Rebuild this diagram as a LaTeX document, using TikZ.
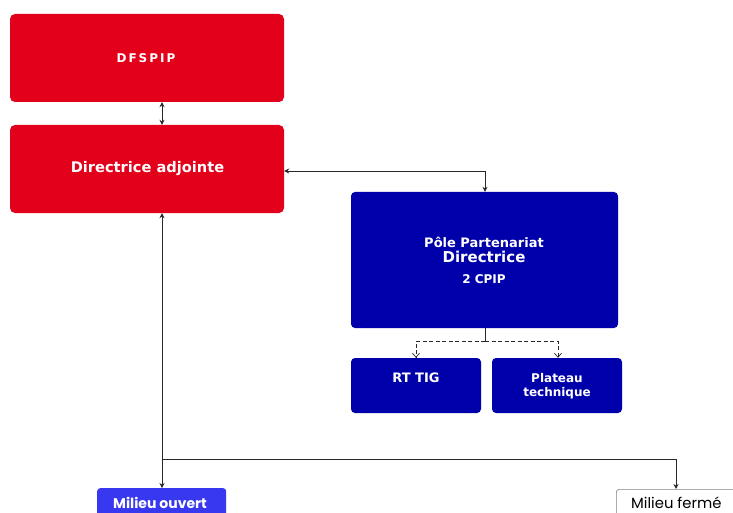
\documentclass[tikz,border=0pt]{standalone}
\usepackage{fontspec}
\setmainfont{DejaVu Sans}
\newfontfamily\popfont{Poppins}
\usetikzlibrary{arrows.meta}
\definecolor{redbox}{RGB}{226,0,26}
\definecolor{bluebox}{RGB}{0,0,170}
\definecolor{lightblue}{RGB}{56,56,240}
\definecolor{linegray}{RGB}{40,40,40}
\begin{document}
\begin{tikzpicture}[x=1pt,y=-1pt,
  redstyle/.style={fill=redbox, rounded corners=5pt, inner sep=0pt},
  bluestyle/.style={fill=bluebox, rounded corners=4pt, inner sep=0pt},
  wtext/.style={text=white, font=\bfseries, align=center, inner sep=0pt},
  conn/.style={draw=linegray, line width=0.8pt, -{Stealth[length=5pt,width=5pt]}},
  dconn/.style={draw=linegray, line width=0.8pt, {Stealth[length=5pt,width=5pt]}-{Stealth[length=5pt,width=5pt]}},
  dashconn/.style={draw=linegray, line width=0.7pt, dashed, dash pattern=on 4pt off 2.5pt, -{Straight Barb[length=4pt,width=7pt]}}
]
\useasboundingbox (0,0) rectangle (733,513);
\clip (0,0) rectangle (733,513);
\fill[white] (0,0) rectangle (733,513);

\node[redstyle, minimum width=274pt, minimum height=88pt] (dfspip) at (147,58) {};
\node[wtext, font=\bfseries\fontsize{12}{14}\selectfont] (dfspipt) at (146,58) {D\,F\,S\,P\,I\,P};
\node[redstyle, minimum width=274pt, minimum height=88pt] (adj) at (147,169) {};
\node[wtext, font=\bfseries\fontsize{14.6}{16}\selectfont] (adjt) at (147.5,169) {Directrice adjointe};

\node[bluestyle, minimum width=267pt, minimum height=136pt] (pole) at (484.5,260) {};
\node[wtext, font=\bfseries\fontsize{13}{15}\selectfont] (polet1) at (484,242) {Pôle Partenariat};
\node[wtext, font=\bfseries\fontsize{15}{17}\selectfont] (polet2) at (484,257) {Directrice};
\node[wtext, font=\bfseries\fontsize{12}{14}\selectfont] (polet3) at (484,279) {2 CPIP};

\node[bluestyle, minimum width=130pt, minimum height=55pt] (rt) at (416,385.5) {};
\node[wtext, font=\bfseries\fontsize{13}{15}\selectfont] (rtt) at (416,378) {RT TIG};
\node[bluestyle, minimum width=130pt, minimum height=55pt] (plat) at (557,385.5) {};
\node[wtext, font=\bfseries\fontsize{12}{14.5}\selectfont] (platt) at (557,386) {Plateau\\technique};

\node[fill=lightblue, rounded corners=3pt, minimum width=129pt, minimum height=40pt, anchor=north west, inner sep=0pt] (mo) at (97,488) {};
\node[text=white, font=\popfont\bfseries\fontsize{14}{16}\selectfont, inner sep=0pt] (mot) at (160,503) {Milieu ouvert};
\node[fill=white, draw=gray, line width=0.6pt, rounded corners=3pt, minimum width=122pt, minimum height=40pt, anchor=north west, inner sep=0pt] (mf) at (616,489) {};
\node[text=black, font=\popfont\fontsize{14.8}{16}\selectfont, anchor=west, inner sep=0pt] (mft) at (631,503) {Milieu fermé};

% connectors
\draw[dconn] (dfspip.south -| 162,0) -- (adj.north -| 162,0);
\draw[dconn] (adj.east |- 0,171) -- (485,171) -- (pole.north -| 485,0);
\coordinate (split) at (162,459);
\draw[dconn] (adj.south -| 162,0) -- (mo.north -| 162,0);
\draw[conn] (split) -- (676,459) -- (mf.north -| 676,0);
\coordinate (dtop) at (485,341);
\draw[draw=linegray, line width=0.7pt] (pole.south -| 485,0) -- (dtop);
\draw[dashconn] (dtop) -- (416,341) -- (rt.north);
\draw[dashconn] (dtop) -- (558,341) -- (plat.north -| 558,0);
\end{tikzpicture}
\end{document}
